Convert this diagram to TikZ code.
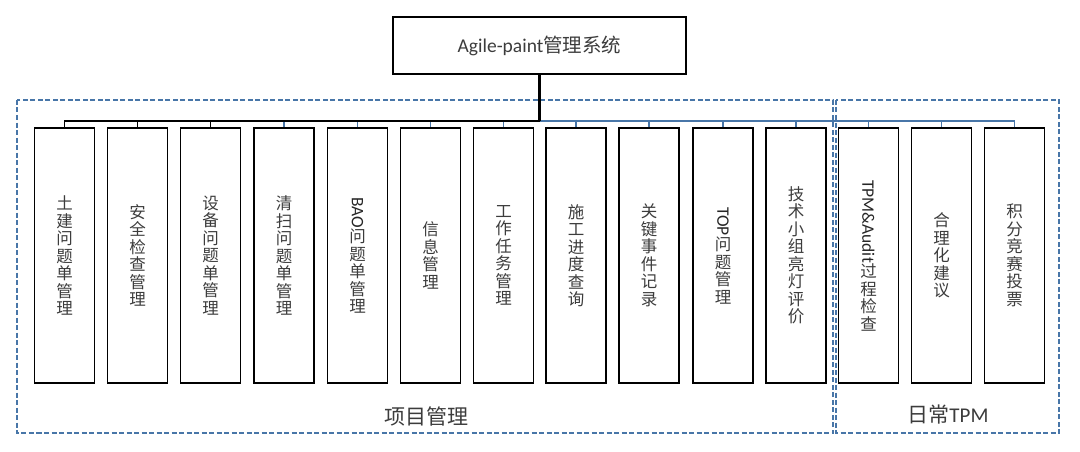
\documentclass[tikz,border=0pt]{standalone}
\usepackage{fontspec}
\setmainfont{Carlito}
\newfontfamily\cjk{Noto Sans CJK SC}
\usepackage{graphicx}
\definecolor{dblue}{RGB}{72,118,168}
\definecolor{txt}{RGB}{60,60,60}
\newcommand\lat[1]{\rotatebox{-90}{\rmfamily\fontsize{17.5}{18}\selectfont\color{black!85}#1}}
\begin{document}
\begin{tikzpicture}[x=1pt,y=-1pt,
  mod/.style={draw=black, line width=1.6pt, minimum width=60pt, minimum height=255pt,
    inner sep=0pt, align=center, text=txt, font=\fontsize{16.5}{17.5}\selectfont\cjk},
  topbox/.style={draw=black, line width=1.6pt, minimum width=293pt, minimum height=57pt,
    inner sep=0pt, text=txt, font=\fontsize{19.5}{22}\selectfont},
  group/.style={draw=dblue, line width=1.3pt, dash pattern=on 5pt off 2.5pt},
  blueline/.style={draw=dblue, line width=1.4pt},
  blackline/.style={draw=black, line width=1.6pt},
  lbl/.style={text=txt, inner sep=0pt, font=\fontsize{21}{24}\selectfont}]
\useasboundingbox (0,0) rectangle (1080,452);
% groups
\draw[group] (17,100) rectangle (833,433);
\draw[group] (836,100) rectangle (1059,433);
% top
\node[topbox] (top) at (539.5,45.5) {Agile-paint{\cjk 管理系统}};
\coordinate (bus) at (539.5,121);
% modules
\node[mod] (m1) at (64.5,255.5) {土\\建\\问\\题\\单\\管\\理};
\node[mod] (m2) at (137.5,255.5) {安\\全\\检\\查\\管\\理};
\node[mod] (m3) at (210.5,255.5) {设\\备\\问\\题\\单\\管\\理};
\node[mod] (m4) at (284,255.5) {清\\扫\\问\\题\\单\\管\\理};
\node[mod] (m5) at (357.5,255.5) {\lat{BAO}\\问\\题\\单\\管\\理};
\node[mod] (m6) at (430.5,255.5) {信\\息\\管\\理};
\node[mod] (m7) at (503.5,255.5) {工\\作\\任\\务\\管\\理};
\node[mod] (m8) at (576,255.5) {施\\工\\进\\度\\查\\询};
\node[mod] (m9) at (649,255.5) {关\\键\\事\\件\\记\\录};
\node[mod] (m10) at (723,255.5) {\lat{TOP}\\问\\题\\管\\理};
\node[mod] (m11) at (796,255.5) {技\\术\\小\\组\\亮\\灯\\评\\价};
\node[mod] (m12) at (868.5,255.5) {\lat{TPM\&Audit}\\过\\程\\检\\查};
\node[mod] (m13) at (941.5,255.5) {合\\理\\化\\建\\议};
\node[mod] (m14) at (1014.5,255.5) {积\\分\\竞\\赛\\投\\票};
% connectors
\foreach \i in {4,...,14} \draw[blueline] (m\i.north) |- (bus);
\foreach \i in {1,2,3} \draw[blackline] (m\i.north) |- (bus);
\draw[draw=black, line width=2.4pt] (top.south) -- (bus);
% labels
\node[lbl] (l1) at (426,416) {\cjk 项目管理};
\node[lbl] (l2) at (948,415) {{\cjk 日常}TPM};
\end{tikzpicture}
\end{document}
